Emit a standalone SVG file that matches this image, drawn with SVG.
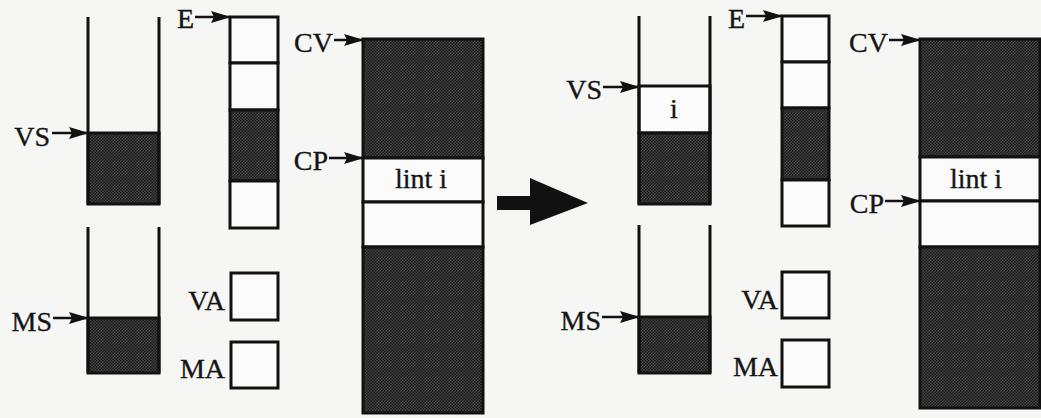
<svg xmlns="http://www.w3.org/2000/svg" width="1041" height="418" viewBox="0 0 1041 418">
<defs>
<pattern id="stip" width="3" height="3" patternUnits="userSpaceOnUse">
<rect width="3" height="3" fill="#444"/>
<rect width="1.5" height="1.5" fill="#181818"/>
<rect x="1.5" y="1.5" width="1.5" height="1.5" fill="#181818"/>
</pattern>
<marker id="ah" viewBox="0 0 20 12" refX="19" refY="6" markerWidth="20" markerHeight="12" markerUnits="userSpaceOnUse" orient="auto">
<path d="M0,0 L20,6 L0,12 L3,6 z" fill="#111"/>
</marker>
<style>
.wall{stroke:#111;stroke-width:3;fill:none}
.box{stroke:#111;stroke-width:3;fill:#fbfbfb}
.dark{fill:url(#stip);stroke:#111;stroke-width:3}
.lab{font-family:"Liberation Serif","Times New Roman",serif;font-size:28px;fill:#151515;stroke:#151515;stroke-width:0.35}
.ptr{stroke:#111;stroke-width:2.5;fill:none;marker-end:url(#ah)}
</style>
</defs>
<rect width="1041" height="418" fill="#f6f6f4"/>

<!-- LEFT STATE -->
<g id="vs-stack-1">
<rect class="dark" x="88" y="133" width="71" height="71"/>
<path class="wall" d="M88,17 V204 M159,17 V204"/>
<text class="lab" x="50" y="146" text-anchor="end">VS</text>
</g>
<g id="ms-stack-1">
<rect class="dark" x="88" y="318" width="71" height="55"/>
<path class="wall" d="M88,227 V373 M159,227 V373"/>
<text class="lab" x="52" y="331" text-anchor="end">MS</text>
</g>
<g id="e-stack-1">
<rect class="box" x="230" y="17" width="48" height="46"/>
<rect class="box" x="230" y="63" width="48" height="47"/>
<rect class="dark" x="230" y="110" width="48" height="71"/>
<rect class="box" x="230" y="181" width="48" height="47"/>
<text class="lab" x="194" y="28" text-anchor="end">E</text>
</g>
<g id="va-1">
<rect class="box" x="231" y="273" width="47" height="47"/>
<text class="lab" x="225" y="310" text-anchor="end">VA</text>
</g>
<g id="ma-1">
<rect class="box" x="231" y="342" width="47" height="46"/>
<text class="lab" x="225" y="378" text-anchor="end">MA</text>
</g>
<g id="cv-1">
<rect class="dark" x="363" y="39" width="120" height="119"/>
<rect class="box" x="363" y="158" width="120" height="44"/>
<rect class="box" x="363" y="202" width="120" height="45"/>
<rect class="dark" x="363" y="247" width="120" height="166"/>
<text class="lab" x="421" y="188" text-anchor="middle">lint i</text>
<text class="lab" x="333" y="52" text-anchor="end">CV</text>
<text class="lab" x="328" y="170" text-anchor="end">CP</text>
</g>

<!-- RIGHT STATE -->
<g id="vs-stack-2">
<rect class="box" x="639" y="86" width="71" height="47"/>
<rect class="dark" x="639" y="133" width="71" height="71"/>
<path class="wall" d="M639,16 V204 M710,16 V204"/>
<text class="lab" x="674" y="118" text-anchor="middle">i</text>
<text class="lab" x="602" y="99" text-anchor="end">VS</text>
</g>
<g id="ms-stack-2">
<rect class="dark" x="639" y="317" width="71" height="56"/>
<path class="wall" d="M639,225 V373 M710,225 V373"/>
<text class="lab" x="601" y="330" text-anchor="end">MS</text>
</g>
<g id="e-stack-2">
<rect class="box" x="782" y="16" width="47" height="46"/>
<rect class="box" x="782" y="62" width="47" height="46"/>
<rect class="dark" x="782" y="108" width="47" height="72"/>
<rect class="box" x="782" y="180" width="47" height="46"/>
<text class="lab" x="745" y="28" text-anchor="end">E</text>
</g>
<g id="va-2">
<rect class="box" x="782" y="272" width="47" height="46"/>
<text class="lab" x="778" y="309" text-anchor="end">VA</text>
</g>
<g id="ma-2">
<rect class="box" x="782" y="340" width="47" height="47"/>
<text class="lab" x="778" y="376" text-anchor="end">MA</text>
</g>
<g id="cv-2">
<rect class="dark" x="920" y="39" width="120" height="118"/>
<rect class="box" x="920" y="157" width="120" height="44"/>
<rect class="box" x="920" y="201" width="120" height="46"/>
<rect class="dark" x="920" y="247" width="120" height="161"/>
<text class="lab" x="976" y="188" text-anchor="middle">lint i</text>
<text class="lab" x="888" y="52" text-anchor="end">CV</text>
<text class="lab" x="884" y="213" text-anchor="end">CP</text>
</g>

<g id="connectors">
<line class="ptr" x1="52" y1="133" x2="88" y2="133"/>
<line class="ptr" x1="53" y1="318" x2="88" y2="318"/>
<line class="ptr" x1="195" y1="17" x2="230" y2="17"/>
<line class="ptr" x1="334" y1="40" x2="363" y2="40"/>
<line class="ptr" x1="329" y1="158" x2="363" y2="158"/>
<line class="ptr" x1="603" y1="87" x2="639" y2="87"/>
<line class="ptr" x1="602" y1="317" x2="639" y2="317"/>
<line class="ptr" x1="746" y1="16" x2="782" y2="16"/>
<line class="ptr" x1="889" y1="40" x2="920" y2="40"/>
<line class="ptr" x1="885" y1="201" x2="920" y2="201"/>
<path id="transition-arrow" d="M497,196 H530 V178 L588,203 L530,225 V210 H497 z" fill="#111"/>
</g>
</svg>
